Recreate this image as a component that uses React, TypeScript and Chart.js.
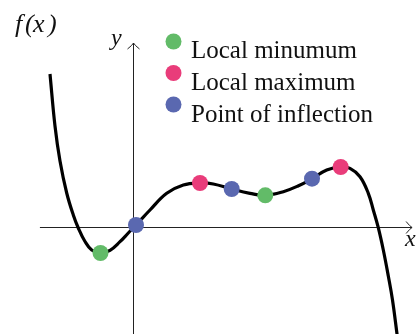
import React, { useEffect, useRef } from "react";
import { Chart, registerables } from "chart.js";

Chart.register(...registerables);

// curve samples (arbitrary units, 1 unit ≈ 32 px)
const curveX = [-2.625, -2.469, -2.3125, -2.103, -1.897, -1.741, -1.531, -1.322, -1.047, -0.75, -0.4375, -0.178, 0.0625, 0.5, 1.022, 1.541, 2.0625, 2.478, 3.053, 3.625, 4.103, 4.666, 5.125, 5.5625, 6.022, 6.459, 6.75, 7.0625, 7.322, 7.478, 7.634, 7.791, 7.947, 8.078, 8.219, 8.2625];
const curveY = [4.781, 3.156, 2.0625, 1.0625, 0.375, -0.031, -0.453, -0.719, -0.8125, -0.728, -0.459, -0.1875, 0.0625, 0.531, 1.053, 1.3125, 1.375, 1.344, 1.1875, 1.053, 0.99, 1.103, 1.281, 1.509, 1.781, 1.875, 1.834, 1.572, 1.053, 0.531, -0.022, -0.719, -1.531, -2.281, -3.344, -3.6875];

const minX = [-1.047, 4.103];
const minY = [-0.8125, 0.99];
const maxX = [2.0625, 6.459];
const maxY = [1.375, 1.875];
const inflX = [0.0625, 3.053, 5.5625];
const inflY = [0.0625, 1.1875, 1.509];

const legendLabels = ["Local minumum", "Local maximum", "Point of inflection"];
const title = "f(x)";
const xLabel = "x";
const yLabel = "y";

const GREEN = "rgb(98,187,104)";
const PINK = "rgb(233,60,122)";
const BLUE = "rgb(90,104,176)";

const X_MIN = -134 / 32;
const X_MAX = (419 - 134) / 32;
const Y_MIN = (227 - 334) / 32;
const Y_MAX = 227 / 32;

const AXIS_X_FROM = -2.94;
const AXIS_X_TO = 8.69;
const AXIS_Y_FROM = -3.5;
const AXIS_Y_TO = 5.75;

const pts = (xs: number[], ys: number[]) => xs.map((x, i) => ({ x, y: ys[i] }));

export default function App() {
  const ref = useRef<HTMLCanvasElement | null>(null);
  useEffect(() => {
    if (!ref.current) return;
    const deco = {
      id: "deco",
      beforeDatasetsDraw(chart: any) {
        const ctx = chart.ctx;
        const xs = chart.scales.x;
        const ys = chart.scales.y;
        const x0 = Math.round(xs.getPixelForValue(0)) - 0.5;
        const y0 = Math.round(ys.getPixelForValue(0)) + 0.5;
        const xa = xs.getPixelForValue(AXIS_X_FROM);
        const xb = xs.getPixelForValue(AXIS_X_TO);
        const ya = ys.getPixelForValue(AXIS_Y_FROM);
        const yb = ys.getPixelForValue(AXIS_Y_TO);
        ctx.save();
        ctx.strokeStyle = "#222";
        ctx.lineWidth = 1;
        ctx.beginPath();
        ctx.moveTo(xa, y0);
        ctx.lineTo(xb, y0);
        ctx.moveTo(x0, ya);
        ctx.lineTo(x0, yb);
        ctx.stroke();
        // arrow heads
        ctx.beginPath();
        ctx.moveTo(xb - 6, y0 - 6);
        ctx.quadraticCurveTo(xb - 2, y0 - 1, xb, y0);
        ctx.quadraticCurveTo(xb - 2, y0 + 1, xb - 6, y0 + 6);
        ctx.moveTo(x0 - 6, yb + 6);
        ctx.quadraticCurveTo(x0 - 1, yb + 2, x0, yb);
        ctx.quadraticCurveTo(x0 + 1, yb + 2, x0 + 6, yb + 6);
        ctx.stroke();
        ctx.restore();
      },
      afterDraw(chart: any) {
        const ctx = chart.ctx;
        ctx.save();
        ctx.fillStyle = "#111";
        ctx.textBaseline = "alphabetic";
        ctx.textAlign = "left";
        // title f(x), drawn char by char for math spacing
        ctx.font = "italic 26px 'Liberation Serif', serif";
        const tchars = title.split("");
        const tpos = [15, 25, 33, 48];
        tchars.forEach((c: string, i: number) => ctx.fillText(c, tpos[i] ?? 15 + i * 12, 32));
        ctx.font = "italic 24px 'Liberation Serif', serif";
        ctx.fillText(yLabel, 111, 45);
        ctx.fillText(xLabel, 405, 246);
        // legend
        const colors = [GREEN, PINK, BLUE];
        ctx.font = "25px 'Liberation Serif', serif";
        legendLabels.forEach((lab, i) => {
          const cy = 41.5 + i * 31.5;
          ctx.beginPath();
          ctx.fillStyle = colors[i];
          ctx.arc(173.5, cy, 8, 0, Math.PI * 2);
          ctx.fill();
          ctx.fillStyle = "#111";
          ctx.fillText(lab, 191, 58 + i * 32);
        });
        ctx.restore();
      },
    };
    const chart = new Chart(ref.current, {
      type: "scatter",
      data: {
        datasets: [
          {
            label: "f",
            data: pts(curveX, curveY),
            showLine: true,
            borderColor: "#000",
            borderWidth: 3.2,
            pointRadius: 0,
            tension: 0.4,
            order: 10,
          } as any,
          { label: legendLabels[0], data: pts(minX, minY), pointRadius: 8, backgroundColor: GREEN, borderWidth: 0, order: 1 },
          { label: legendLabels[1], data: pts(maxX, maxY), pointRadius: 8, backgroundColor: PINK, borderWidth: 0, order: 1 },
          { label: legendLabels[2], data: pts(inflX, inflY), pointRadius: 8, backgroundColor: BLUE, borderWidth: 0, order: 1 },
        ],
      },
      options: {
        animation: false,
        responsive: false,
        maintainAspectRatio: false,
        layout: { padding: 0, autoPadding: false },
        plugins: { legend: { display: false }, tooltip: { enabled: false }, title: { display: false } },
        scales: {
          x: { type: "linear", min: X_MIN, max: X_MAX, display: false },
          y: { type: "linear", min: Y_MIN, max: Y_MAX, display: false },
        },
      },
      plugins: [deco],
    });
    return () => chart.destroy();
  }, []);
  return (
    <div style={{ position: "fixed", left: 0, top: 0, width: 419, height: 334, background: "#fff" }}>
      <canvas ref={ref} width={419} height={334} style={{ width: 419, height: 334 }} />
    </div>
  );
}
